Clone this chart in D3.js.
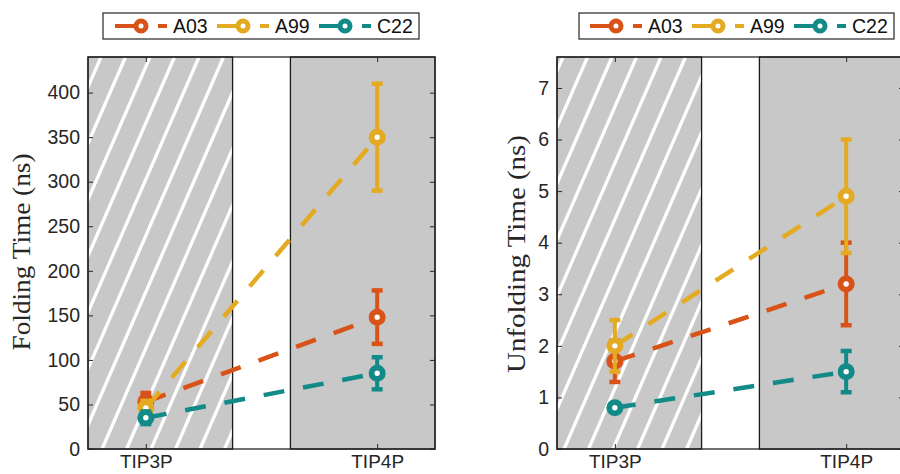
<!DOCTYPE html>
<html><head><meta charset="utf-8">
<script src="https://cdn.jsdelivr.net/npm/d3@7"></script>
<style>body{margin:0;background:#fff}svg{display:block}</style>
</head><body>
<svg id="chart" width="900" height="474"></svg>
<script>
// ---------------- data ----------------
const categories = ["TIP3P", "TIP4P"];
const seriesNames = ["A03", "A99", "C22"];
const seriesColors = ["#D95319", "#E3AA22", "#128A88"];
const foldingMeans = [[53, 148], [46, 350], [35, 85]];
const foldingErrors = [[10, 30], [8, 60], [7, 18]];
const unfoldingMeans = [[1.7, 3.2], [2.0, 4.9], [0.8, 1.5]];
const unfoldingErrors = [[0.4, 0.8], [0.5, 1.1], [0.05, 0.4]];
const foldingTicks = [0, 50, 100, 150, 200, 250, 300, 350, 400];
const unfoldingTicks = [0, 1, 2, 3, 4, 5, 6, 7];
const hatchedRegion = [0.75, 1.375];
const grayRegion = [1.625, 2.25];
const xDomain = [0.75, 2.25];
const foldingDomain = [0, 440];
const unfoldingDomain = [0, 7.6];

// ---------------- drawing ----------------
const svg = d3.select("#chart");
const axisColor = "#262626";
const sansFont = "'Liberation Sans', Arial, Helvetica, sans-serif";
const serifFont = "'Liberation Serif', 'Times New Roman', serif";

function drawPanel(cfg) {
  const g = svg.append("g");
  const x = d3.scaleLinear().domain(xDomain).range([cfg.x0, cfg.x1]);
  const y = d3.scaleLinear().domain(cfg.yDomain).range([cfg.y1, cfg.y0]);
  const top = cfg.y0, bottom = cfg.y1, H = bottom - top;

  // gray regions
  const clipId = "clip" + cfg.id;
  g.append("clipPath").attr("id", clipId).append("rect")
    .attr("x", x(hatchedRegion[0])).attr("y", top)
    .attr("width", x(hatchedRegion[1]) - x(hatchedRegion[0])).attr("height", H);
  g.append("rect").attr("x", x(hatchedRegion[0])).attr("y", top)
    .attr("width", x(hatchedRegion[1]) - x(hatchedRegion[0])).attr("height", H)
    .attr("fill", "#c8c8c8");
  // hatch lines
  const slope = 2.3, spacing = 24.5;
  const hl = g.append("g").attr("clip-path", `url(#${clipId})`);
  const left = x(hatchedRegion[0]), right = x(hatchedRegion[1]);
  for (let xt = left + cfg.hatchPhase - spacing * 2; xt < right + H / slope + spacing; xt += spacing) {
    hl.append("line").attr("x1", xt).attr("y1", top).attr("x2", xt - H / slope).attr("y2", bottom)
      .attr("stroke", "#fff").attr("stroke-width", 3.3);
  }
  g.append("rect").attr("x", x(hatchedRegion[0])).attr("y", top)
    .attr("width", x(hatchedRegion[1]) - x(hatchedRegion[0])).attr("height", H)
    .attr("fill", "none").attr("stroke", "#1a1a1a").attr("stroke-width", 1.3);
  g.append("rect").attr("x", x(grayRegion[0])).attr("y", top)
    .attr("width", x(grayRegion[1]) - x(grayRegion[0])).attr("height", H)
    .attr("fill", "#c8c8c8").attr("stroke", "#1a1a1a").attr("stroke-width", 1.3);

  // axis box
  g.append("rect").attr("x", cfg.x0).attr("y", top).attr("width", cfg.x1 - cfg.x0).attr("height", H)
    .attr("fill", "none").attr("stroke", axisColor).attr("stroke-width", 1.3);

  // axes
  const yl = g.append("g").attr("transform", `translate(${cfg.x0},0)`)
    .call(d3.axisLeft(y).tickValues(cfg.ticks).tickSize(-5).tickSizeOuter(0).tickPadding(8));
  const yr = g.append("g").attr("transform", `translate(${cfg.x1},0)`)
    .call(d3.axisRight(y).tickValues(cfg.ticks).tickSize(-5).tickSizeOuter(0).tickFormat(""));
  const xb = g.append("g").attr("transform", `translate(0,${bottom})`)
    .call(d3.axisBottom(x).tickValues([1, 2]).tickFormat((d, i) => categories[i])
      .tickSize(-5).tickSizeOuter(0).tickPadding(6));
  const xt = g.append("g").attr("transform", `translate(0,${top})`)
    .call(d3.axisTop(x).tickValues([1, 2]).tickSize(-5).tickSizeOuter(0).tickFormat(""));
  [yl, yr, xb, xt].forEach(a => {
    a.select(".domain").remove();
    a.selectAll("line").attr("stroke", axisColor).attr("stroke-width", 1);
    a.selectAll("text").attr("fill", axisColor).style("font-family", sansFont).style("font-size", "19.5px");
  });
  xb.selectAll("text").style("font-size", "19px");

  // y label
  g.append("text")
    .attr("transform", `translate(${cfg.labelX},${cfg.labelY}) rotate(-90)`)
    .attr("text-anchor", "middle")
    .attr("textLength", cfg.labelLen).attr("lengthAdjust", "spacingAndGlyphs")
    .style("font-family", serifFont).style("font-size", cfg.labelSize + "px")
    .attr("fill", axisColor)
    .text(cfg.label);

  // series
  const line = d3.line().x(d => x(d[0])).y(d => y(d[1]));
  seriesNames.forEach((name, s) => {
    const col = seriesColors[s];
    const pts = cfg.means[s].map((v, i) => [i + 1, v]);
    const sg = g.append("g");
    sg.append("path").attr("d", line(pts)).attr("fill", "none")
      .attr("stroke", col).attr("stroke-width", 4.5).attr("stroke-dasharray", "21,19");
    pts.forEach((p, i) => {
      const e = cfg.errors[s][i];
      const cx = x(p[0]);
      sg.append("line").attr("x1", cx).attr("x2", cx).attr("y1", y(p[1] - e)).attr("y2", y(p[1] + e))
        .attr("stroke", col).attr("stroke-width", 4);
      [p[1] - e, p[1] + e].forEach(v => {
        sg.append("line").attr("x1", cx - 5.5).attr("x2", cx + 5.5).attr("y1", y(v)).attr("y2", y(v))
          .attr("stroke", col).attr("stroke-width", 4.5);
      });
      sg.append("circle").attr("cx", cx).attr("cy", y(p[1])).attr("r", 5.6)
        .attr("fill", "#fff").attr("stroke", col).attr("stroke-width", 5.8);
    });
  });

  // legend
  const lg = svg.append("g");
  lg.append("rect").attr("x", cfg.legX).attr("y", 13).attr("width", cfg.legW).attr("height", 26)
    .attr("fill", "#fff").attr("stroke", axisColor).attr("stroke-width", 1.2);
  seriesNames.forEach((name, s) => {
    const x0 = cfg.legEntry + s * 102, cy = 26, col = seriesColors[s];
    lg.append("line").attr("x1", x0).attr("x2", x0 + 26).attr("y1", cy).attr("y2", cy)
      .attr("stroke", col).attr("stroke-width", 4);
    lg.append("line").attr("x1", x0 + 43).attr("x2", x0 + 52).attr("y1", cy).attr("y2", cy)
      .attr("stroke", col).attr("stroke-width", 4);
    lg.append("circle").attr("cx", x0 + 26).attr("cy", cy).attr("r", 5)
      .attr("fill", "#fff").attr("stroke", col).attr("stroke-width", 5);
    lg.append("text").attr("x", x0 + 58).attr("y", cy + 7)
      .style("font-family", sansFont).style("font-size", "19.5px").attr("fill", "#111")
      .text(name);
  });
}

drawPanel({
  id: "L", x0: 88, x1: 435, y0: 57, y1: 449, yDomain: foldingDomain, ticks: foldingTicks,
  means: foldingMeans, errors: foldingErrors, hatchPhase: 13,
  label: "Folding Time (ns)", labelX: 30, labelY: 252, labelLen: 197, labelSize: 25,
  legX: 103, legW: 316, legEntry: 115
});
drawPanel({
  id: "R", x0: 557, x1: 904, y0: 57, y1: 449, yDomain: unfoldingDomain, ticks: unfoldingTicks,
  means: unfoldingMeans, errors: unfoldingErrors, hatchPhase: 6,
  label: "Unfolding Time (ns)", labelX: 525, labelY: 254, labelLen: 238, labelSize: 26,
  legX: 579, legW: 315, legEntry: 590
});
</script>
</body></html>
